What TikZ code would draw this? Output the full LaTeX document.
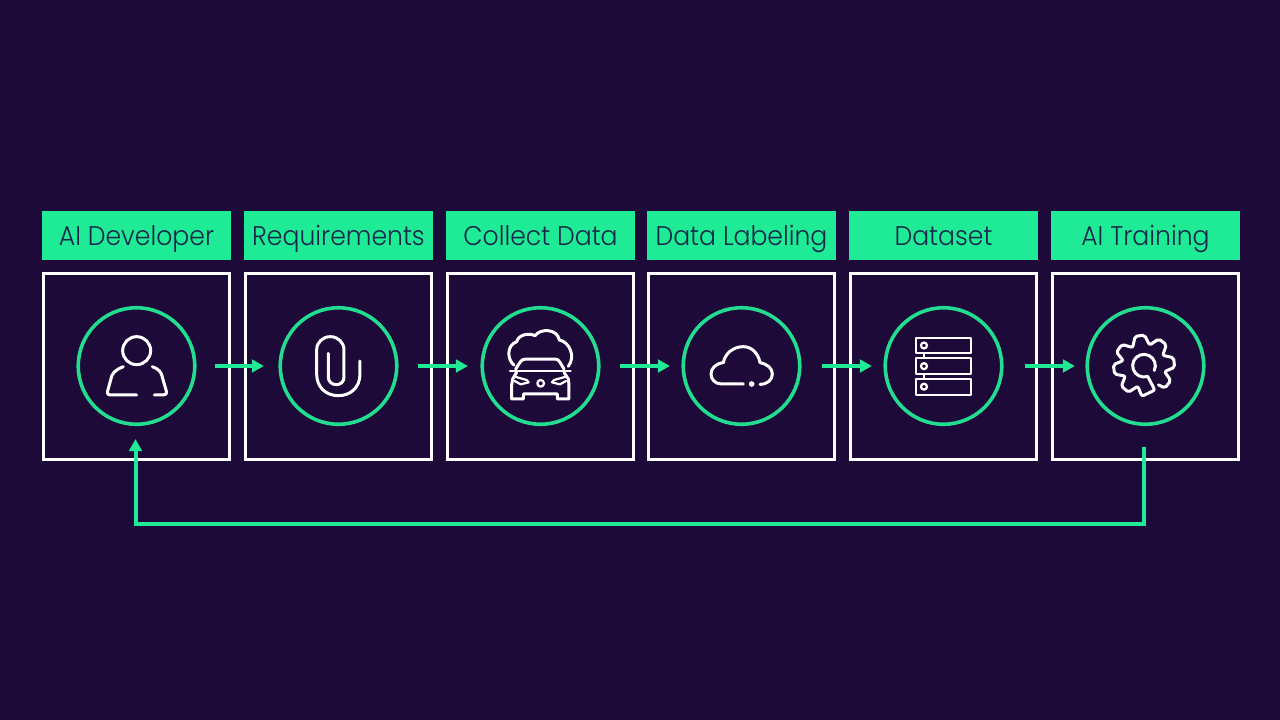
\documentclass[tikz,border=0pt]{standalone}
\usepackage{fontspec}
\setmainfont{Poppins}[UprightFont=* Light,FakeStretch=0.93]
\usetikzlibrary{arrows.meta,calc}
\definecolor{bgc}{HTML}{1E0A38}
\definecolor{mint}{HTML}{1FEA96}
\definecolor{ringc}{HTML}{22DC90}
\definecolor{inkc}{HTML}{17294A}
\tikzset{
  lab/.style={fill=mint,minimum width=189pt,minimum height=49pt,inner sep=0pt,text=inkc,text height=25pt,text depth=4.6pt,font=\fontsize{27}{30}\selectfont},
  sq/.style={draw=white,line width=3pt,minimum size=186pt,inner sep=0pt},
  ring/.style={circle,draw=ringc,line width=3.6pt,minimum size=116.5pt,inner sep=0pt},
  flow/.style={draw=mint,line width=4pt,line join=miter,-{Triangle[length=12pt,width=12.5pt]}},
  icon/.style={draw=white,line width=3pt,line join=round,line cap=round,fill=none},
  thin icon/.style={icon,line width=2.2pt},
  zoomed/.style={shift={#1},x=0.3333pt,y=-0.3333pt}
}
\begin{document}
\begin{tikzpicture}[x=1pt,y=-1pt]
\useasboundingbox (0,0) rectangle (1280,720);
\fill[bgc] (0,0) rectangle (1280,720);
\foreach \n/\cx/\t in {1/136.5/AI Developer,2/338.5/Requirements,3/540.5/Collect Data,4/741.5/Data Labeling,5/943.5/Dataset,6/1145.5/AI Training}{
  \node[lab] (lab\n) at (\cx,235.5) {\t};
  \node[sq] (box\n) at (\cx,366) {};
  \node[ring] (ring\n) at (\cx,366) {};
}
\foreach \a/\b/\s/\e in {1/2/18.5/14.5,2/3/19.5/12.5,3/4/19.5/11.5,4/5/20.5/11.5,5/6/21.5/10.5}
  \draw[flow,shorten <=\s pt,shorten >=\e pt] (ring\a.east) -- (ring\b.west);
\draw[flow,shorten >=13pt]
  ([xshift=-1.5pt,yshift=14pt]box6.south) -- ++(0,77) -| ([xshift=-1pt]ring1.south);
% person
\begin{scope}[zoomed={(40,205)}]
  \draw[icon] (290,437) circle (42);
  \draw[icon] (250,485) .. controls (225,495) and (215,505) .. (212,525) -- (203,558) .. controls (201,568) and (205,570) .. (215,570) -- (290,570);
  \draw[icon] (337,485) .. controls (355,492) and (365,500) .. (368,520) -- (379,558) .. controls (381,568) and (376,570) .. (368,570) -- (343,570);
\end{scope}
% paperclip
\begin{scope}[zoomed={(270,300)}]
  \draw[icon] (270,183) -- (270,222) .. controls (270,262) and (242,287) .. (205,287) .. controls (168,287) and (140,262) .. (140,222) -- (140,150) .. controls (140,127) and (158,110) .. (181,110) .. controls (204,110) and (222,127) .. (222,150) -- (222,232) .. controls (222,245) and (212,254) .. (199,254) .. controls (186,254) and (175,245) .. (175,232) -- (175,160);
\end{scope}
% car and cloud
\begin{scope}[zoomed={(500,325)}]
  \draw[icon] (42,120) .. controls (22,105) and (18,62) .. (50,50) .. controls (55,30) and (85,22) .. (105,32) .. controls (120,10) and (172,10) .. (178,45) .. controls (208,50) and (228,95) .. (205,124);
  \draw[thin icon] (30,137) -- (212,137);
  \draw[icon] (47,132) -- (60,112) .. controls (64,105) and (70,102) .. (78,102) -- (165,102) .. controls (172,102) and (176,105) .. (180,112) -- (192,132);
  \draw[icon] (50,142) -- (38,162) -- (35,180) -- (35,222) -- (70,222) -- (70,207) -- (172,207) -- (172,222) -- (207,222) -- (207,180) -- (205,162) -- (192,142);
  \draw[thin icon] (44,155) -- (80,165) -- (86,172) -- (62,178) -- (44,168);
  \draw[thin icon] (198,155) -- (162,165) -- (156,172) -- (180,178) -- (198,168);
  \draw[thin icon] (122,175) circle (10);
\end{scope}
% cloud
\begin{scope}[zoomed={(680,300)}]
  \draw[icon] (190,252) -- (125,252) .. controls (105,252) and (93,238) .. (93,222) .. controls (93,205) and (108,190) .. (130,188) .. controls (135,160) and (160,140) .. (190,140) .. controls (215,140) and (235,160) .. (240,188) .. controls (262,192) and (277,205) .. (277,222) .. controls (277,240) and (262,253) .. (240,253);
  \fill[white] (215,252) circle (8.5);
\end{scope}
% server
\begin{scope}[zoomed={(680,300)}]
  \foreach \ya/\yb in {113/160,175/222,236/284}{
    \draw[thin icon] (708,\ya) rectangle (872,\yb);
    \draw[thin icon] (732,{(\ya+\yb)/2}) circle (9);
  }
  \draw[thin icon] (732,160) -- (732,175);
  \draw[thin icon] (732,222) -- (732,236);
\end{scope}
% gear
\begin{scope}[shift={(1144,365.7)},x=0.3333pt,y=0.3333pt]
  \draw[icon,rounded corners=2pt] (-53:72)
    -- (-47:92) -- (-29:92) -- (-16:64)
    -- (-3:92) -- (15:92) -- (29:64)
    -- (43:92) -- (61:92) -- (75:64)
    -- (89:92) -- (107:92) -- (122:64)
    -- (136:92) -- (154:92) -- (166:64)
    -- (178:92) -- (196:92) -- (209:64)
    -- (222:92) -- (240:92) -- (253:64)
    -- (266:92) -- (294:80) -- (-71:34);
  \draw[icon] (-71:34) arc[start angle=-71,end angle=-385,radius=34];
\end{scope}
\end{tikzpicture}
\end{document}
